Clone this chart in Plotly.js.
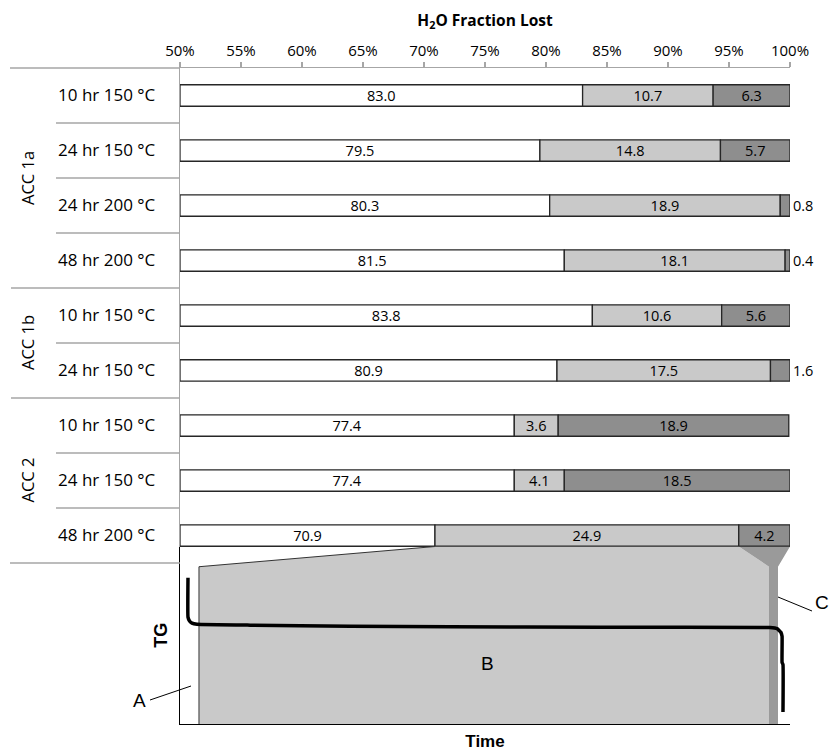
<!DOCTYPE html>
<html>
<head>
<meta charset="utf-8">
<script src="https://cdn.plot.ly/plotly-3.0.1.min.js"></script>
<style>
  html, body { margin: 0; padding: 0; background: #fff; }
  #chart { width: 833px; height: 753px; }
</style>
</head>
<body>
<div id="chart"></div>
<script>
// Fraction of H2O lost in each TG step (%), per sample and drying condition
const groups = ['ACC 1a', 'ACC 1a', 'ACC 1a', 'ACC 1a', 'ACC 1b', 'ACC 1b', 'ACC 2', 'ACC 2', 'ACC 2'];
const conditions = ['10 hr 150 °C', '24 hr 150 °C', '24 hr 200 °C', '48 hr 200 °C',
                    '10 hr 150 °C', '24 hr 150 °C',
                    '10 hr 150 °C', '24 hr 150 °C', '48 hr 200 °C'];
const lossA = [83.0, 79.5, 80.3, 81.5, 83.8, 80.9, 77.4, 77.4, 70.9];
const lossB = [10.7, 14.8, 18.9, 18.1, 10.6, 17.5, 3.6, 4.1, 24.9];
const lossC = [6.3, 5.7, 0.8, 0.4, 5.6, 1.6, 18.9, 18.5, 4.2];

const axisTicks = [50, 55, 60, 65, 70, 75, 80, 85, 90, 95, 100];
const axisTickText = ['50%', '55%', '60%', '65%', '70%', '75%', '80%', '85%', '90%', '95%', '100%'];

// Schematic TG curve (time and remaining mass, both normalised)
const tgTime = [1.31, 1.31, 1.56, 1.97, 2.79, 11.5, 27.9, 44.3, 68.9, 96.7, 97.9, 98.5, 98.7, 98.7, 98.85, 98.85];
const tgMass = [0.824, 0.602, 0.580, 0.568, 0.562, 0.557, 0.551, 0.548, 0.545, 0.544, 0.537, 0.517, 0.494, 0.347, 0.335, 0.068];
// Ends of steps A, B and C on the TG time axis, and height of the step bands
const stepEnds = [3.11, 96.56, 98.03];
const stepTop = 0.886;

// ---- page geometry (px) ----
const W = 833, H = 753;
const plotL = 180, plotR = 790, plotT = 68, plotB = 563;
const insetT = 546.5, insetB = 724;
const px = x => x / W;
const py = y => 1 - y / H;
const rowH = (plotB - plotT) / conditions.length;

const FONT = '"Open Sans", Lato, sans-serif';
const ARIAL = '"Liberation Sans", Arial, sans-serif';
const LIGHT = '#c9c9c9';
const DARK = '#8e8e8e';
const EDGE = '#262626';
const RULE = '#a6a6a6';

const idx = conditions.map((_, i) => i);
const fmt = v => v.toFixed(1);
const r1 = v => Math.round(v * 10) / 10;
const lastRow = conditions.length - 1;

// bar percentage -> inset time (both span the same pixel width)
const toTime = p => (p - 50) * 2;

const barCommon = {
  type: 'bar', orientation: 'h', y: idx, width: 0.39,
  textposition: 'inside', insidetextanchor: 'middle', textangle: 0, constraintext: 'none',
  textfont: { family: FONT, size: 14.5, color: '#000' },
  outsidetextfont: { family: FONT, size: 14.5, color: '#000' },
  cliponaxis: false, hoverinfo: 'skip', showlegend: false
};

const baseC = lossA.map((a, i) => r1(a + lossB[i]));

const traces = [
  Object.assign({}, barCommon, {
    base: lossA.map(() => 50), x: lossA.map(v => r1(v - 50)),
    text: lossA.map(fmt),
    marker: { color: '#ffffff', line: { color: EDGE, width: 1.3 } }
  }),
  Object.assign({}, barCommon, {
    base: lossA, x: lossB, text: lossB.map(fmt),
    marker: { color: LIGHT, line: { color: EDGE, width: 1.3 } }
  }),
  Object.assign({}, barCommon, {
    base: baseC, x: lossC, text: lossC.map(fmt),
    textposition: lossC.map(v => v < 2 ? 'outside' : 'inside'),
    marker: { color: DARK, line: { color: EDGE, width: 1.3 } }
  })
];

// Inset: TG steps fanned out from the last bar
const aEnd = toTime(lossA[lastRow]);
const bEnd = toTime(baseC[lastRow]);
const cEnd = toTime(r1(baseC[lastRow] + lossC[lastRow]));

traces.push({
  type: 'scatter', mode: 'lines', xaxis: 'x2', yaxis: 'y2',
  x: [stepEnds[0], stepEnds[0], aEnd, bEnd, stepEnds[1], stepEnds[1]],
  y: [0, stepTop, 1, 1, stepTop, 0],
  fill: 'toself', fillcolor: LIGHT, line: { width: 0 },
  hoverinfo: 'skip', showlegend: false
});
traces.push({
  type: 'scatter', mode: 'lines', xaxis: 'x2', yaxis: 'y2',
  x: [bEnd, cEnd, stepEnds[2], stepEnds[2], stepEnds[1], stepEnds[1]],
  y: [1, 1, stepTop, 0, 0, stepTop],
  fill: 'toself', fillcolor: '#9a9a9a', line: { width: 0 },
  hoverinfo: 'skip', showlegend: false
});
traces.push({
  type: 'scatter', mode: 'lines', xaxis: 'x2', yaxis: 'y2',
  x: [stepEnds[0], stepEnds[0], aEnd], y: [0, stepTop, 1],
  line: { color: '#333', width: 1 }, cliponaxis: false,
  hoverinfo: 'skip', showlegend: false
});
traces.push({
  type: 'scatter', mode: 'lines', xaxis: 'x2', yaxis: 'y2',
  x: tgTime, y: tgMass,
  line: { color: '#000', width: 3.5, shape: 'spline', smoothing: 0.3 },
  hoverinfo: 'skip', showlegend: false
});

// Row dividers left of the bars
const shapes = [
  { type: 'line', xref: 'paper', yref: 'paper', x0: px(10), x1: px(plotL), y0: py(plotT), y1: py(plotT), line: { color: RULE, width: 1.3 } },
  { type: 'line', xref: 'paper', yref: 'paper', x0: px(10), x1: px(plotL), y0: py(plotB), y1: py(plotB), line: { color: RULE, width: 1.3 } }
];
for (let i = 0; i < conditions.length - 1; i++) {
  const y = py(plotT + (i + 1) * rowH);
  const newGroup = groups[i] !== groups[i + 1];
  shapes.push({ type: 'line', xref: 'paper', yref: 'paper',
    x0: px(newGroup ? 11 : 56), x1: px(plotL), y0: y, y1: y,
    line: { color: RULE, width: 1.3 } });
}
// Leader lines for the step labels
shapes.push({ type: 'line', xref: 'paper', yref: 'paper', x0: px(150), y0: py(700), x1: px(191), y1: py(686), line: { color: '#000', width: 1 } });
shapes.push({ type: 'line', xref: 'paper', yref: 'paper', x0: px(778), y0: py(597), x1: px(812), y1: py(611), line: { color: '#000', width: 1 } });

// Group labels, centred on their rows
const annotations = [];
const uniqueGroups = [...new Set(groups)];
uniqueGroups.forEach(g => {
  const first = groups.indexOf(g), last = groups.lastIndexOf(g);
  const yc = plotT + ((first + last) / 2 + 0.5) * rowH;
  annotations.push({ xref: 'paper', yref: 'paper', x: px(27), y: py(yc), text: g,
    xanchor: 'center', yanchor: 'middle',
    textangle: -90, showarrow: false, font: { family: FONT, size: 16.5, color: '#000' } });
});
[['A', 139, 700], ['B', 487, 663], ['C', 822, 602]].forEach(([t, x, y]) => {
  annotations.push({ xref: 'paper', yref: 'paper', x: px(x), y: py(y), text: t,
    xanchor: 'center', yanchor: 'middle',
    showarrow: false, font: { family: ARIAL, size: 19, color: '#000' } });
});

const layout = {
  width: W, height: H,
  margin: { l: 0, r: 0, t: 0, b: 0 },
  paper_bgcolor: '#fff', plot_bgcolor: 'rgba(0,0,0,0)',
  barmode: 'overlay',
  showlegend: false,
  xaxis: {
    domain: [px(plotL), px(plotR)], range: [50, 100], side: 'top', anchor: 'y',
    tickvals: axisTicks, ticktext: axisTickText,
    ticks: 'outside', ticklen: 5, tickcolor: RULE, tickwidth: 1.3,
    tickfont: { family: FONT, size: 15, color: '#000' },
    showline: true, linecolor: RULE, linewidth: 1.3,
    showgrid: false, zeroline: false, fixedrange: true,
    title: { text: '<b>H<sub>2</sub>O Fraction Lost</b>', font: { family: FONT, size: 15.5, color: '#000' }, standoff: 9 }
  },
  yaxis: {
    domain: [py(plotB), py(plotT)], range: [lastRow + 0.5, -0.5], anchor: 'x',
    tickvals: idx, ticktext: conditions, ticks: '', ticklabelstandoff: 20,
    tickfont: { family: FONT, size: 17, color: '#000' },
    showline: true, linecolor: RULE, linewidth: 1.3,
    showgrid: false, zeroline: false, fixedrange: true
  },
  xaxis2: {
    domain: [px(plotL), px(plotR)], range: [0, 100], anchor: 'y2',
    showline: true, linecolor: '#000', linewidth: 1.3,
    showticklabels: false, ticks: '', showgrid: false, zeroline: false, fixedrange: true,
    title: { text: '<b>Time</b>', font: { family: ARIAL, size: 17, color: '#000' }, standoff: 10 }
  },
  yaxis2: {
    domain: [py(insetB), py(insetT)], range: [0, 1], anchor: 'x2',
    showline: true, linecolor: '#000', linewidth: 1.3,
    showticklabels: false, ticks: '', showgrid: false, zeroline: false, fixedrange: true,
    title: { text: '<b>TG</b>', font: { family: ARIAL, size: 18, color: '#000' }, standoff: 6 }
  },
  shapes: shapes,
  annotations: annotations
};

Plotly.newPlot('chart', traces, layout, { displayModeBar: false, staticPlot: true });
</script>
</body>
</html>
